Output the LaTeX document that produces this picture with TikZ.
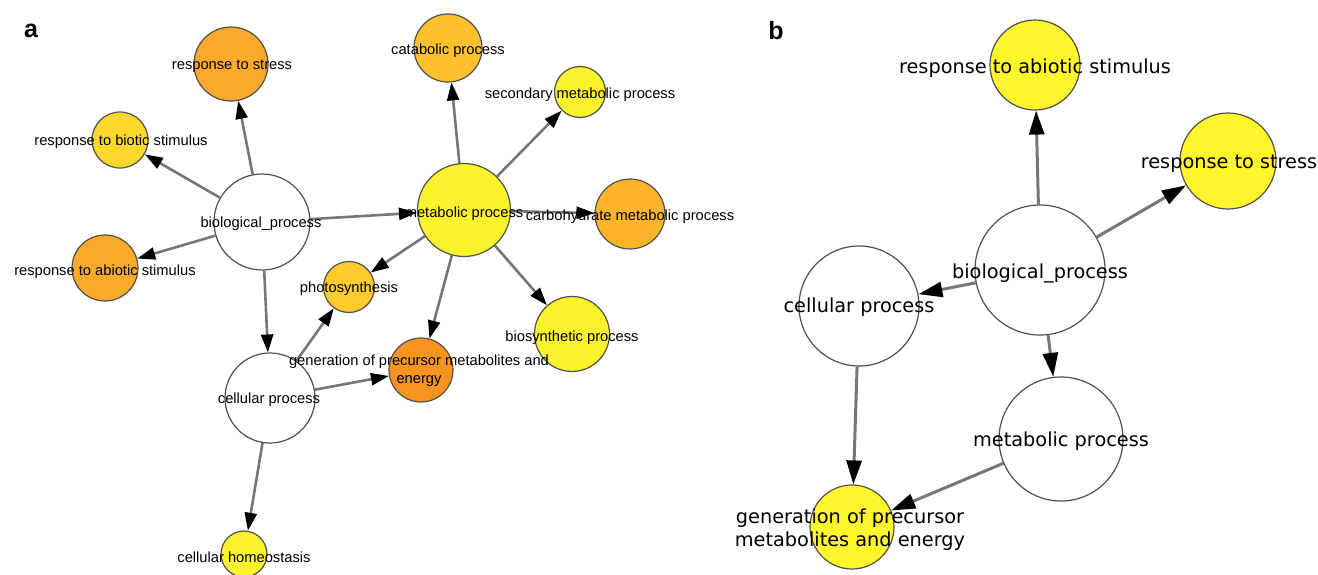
\documentclass[tikz,border=0pt]{standalone}
\usepackage{fontspec}
\setmainfont{Liberation Sans}
\newfontfamily\dejavu{DejaVu Sans}
\usetikzlibrary{arrows.meta}
\definecolor{cOrange}{RGB}{250,170,40}
\definecolor{cBiotic}{RGB}{253,216,44}
\definecolor{cCatab}{RGB}{251,192,44}
\definecolor{cYellow}{RGB}{250,242,42}
\definecolor{cCarbo}{RGB}{251,180,42}
\definecolor{cPhoto}{RGB}{253,204,44}
\definecolor{cGen}{RGB}{247,148,32}
\definecolor{cYellowB}{RGB}{255,245,45}
\definecolor{cEdge}{RGB}{118,118,118}
\definecolor{cBorder}{RGB}{80,80,80}
\tikzset{
  circ/.style={circle, draw=cBorder, line width=1.2pt, inner sep=0pt, minimum size=#1},
  edgea/.style={draw=cEdge, line width=2.6pt, -{Triangle[length=18pt,width=12pt,fill=black,color=black]}},
  edgeb/.style={draw=cEdge, line width=3pt, -{Triangle[length=24pt,width=15pt,fill=black,color=black]}},
  lbla/.style={inner sep=0pt, align=center, yshift=-2pt, font=\fontsize{14.7}{18}\selectfont},
  lblb/.style={inner sep=0pt, align=center, yshift=-2pt, font=\dejavu\fontsize{19.3}{23}\selectfont},
  panel/.style={inner sep=0pt, font=\bfseries\fontsize{25}{30}\selectfont},
}
\begin{document}
\begin{tikzpicture}[x=1pt,y=-1pt]
\useasboundingbox (0,0) rectangle (1318,574);
% ---------- panel a ----------
\node[panel] (pa) at (31,31) {a};
\node[circ=74pt, fill=cOrange] (stress) at (231,64) {};
\node[circ=56pt, fill=cBiotic] (biotic) at (120,140) {};
\node[circ=96pt, fill=white] (bio) at (262,222) {};
\node[circ=66pt, fill=cOrange] (abiotic) at (105,268) {};
\node[circ=68pt, fill=cCatab] (catab) at (448,48) {};
\node[circ=51pt, fill=cYellow] (second) at (580,92) {};
\node[circ=93pt, fill=cYellow] (metab) at (464,210) {};
\node[circ=70pt, fill=cCarbo] (carbo) at (630,214) {};
\node[circ=51pt, fill=cPhoto] (photo) at (349,287) {};
\node[circ=90pt, fill=white] (cell) at (270,398) {};
\node[circ=64pt, fill=cGen] (gen) at (421,370) {};
\node[circ=75pt, fill=cYellow] (biosyn) at (572,334) {};
\node[circ=46pt, fill=cYellow] (homeo) at (244,554) {};
\draw[edgea] (bio) -- (stress);
\draw[edgea] (bio) -- (biotic);
\draw[edgea] (bio) -- (abiotic);
\draw[edgea] (bio) -- (metab);
\draw[edgea] (bio) -- (cell);
\draw[edgea] (metab) -- (catab);
\draw[edgea] (metab) -- (second);
\draw[edgea] (metab) -- (carbo);
\draw[edgea] (metab) -- (photo);
\draw[edgea] (metab) -- (gen);
\draw[edgea] (metab) -- (biosyn);
\draw[edgea] (cell) -- (photo);
\draw[edgea] (cell) -- (gen);
\draw[edgea] (cell) -- (homeo);
\node[lbla] (tstress) at (232,64) {response to stress};
\node[lbla] (tbiotic) at (121,140) {response to biotic stimulus};
\node[lbla] (tbio) at (261,222) {biological\_process};
\node[lbla] (tabiotic) at (105,270) {response to abiotic stimulus};
\node[lbla] (tcatab) at (448,49) {catabolic process};
\node[lbla] (tsecond) at (580,93) {secondary metabolic process};
\node[lbla] (tmetab) at (464,212) {metabolic process};
\node[lbla] (tcarbo) at (630,215) {carbohydrate metabolic process};
\node[lbla] (tphoto) at (349,287) {photosynthesis};
\node[lbla] (tcell) at (269,398) {cellular process};
\node[lbla] (tgen) at (419,369) {generation of precursor metabolites and\\energy};
\node[lbla] (tbiosyn) at (572,336) {biosynthetic process};
\node[lbla] (thomeo) at (244,555) {cellular homeostasis};
% ---------- panel b ----------
\node[panel] (pb) at (776,31) {b};
\node[circ=90pt, fill=cYellowB] (babiotic) at (1035,65) {};
\node[circ=96pt, fill=cYellowB] (bstress) at (1228,161) {};
\node[circ=130pt, fill=white] (bbio) at (1040,270) {};
\node[circ=120pt, fill=white] (bcell) at (859,306) {};
\node[circ=124pt, fill=white] (bmetab) at (1061,439) {};
\node[circ=84pt, fill=cYellowB] (bgen) at (852,527) {};
\draw[edgeb] (bbio) -- (babiotic);
\draw[edgeb] (bbio) -- (bstress);
\draw[edgeb] (bbio) -- (bcell);
\draw[edgeb] (bbio) -- (bmetab);
\draw[edgeb] (bcell) -- (bgen);
\draw[edgeb] (bmetab) -- (bgen);
\node[lblb] (tbabiotic) at (1035,66) {response to abiotic stimulus};
\node[lblb] (tbstress) at (1229,162) {response to stress};
\node[lblb] (tbbio) at (1040,271) {biological\_process};
\node[lblb] (tbcell) at (859,305) {cellular process};
\node[lblb] (tbmetab) at (1061,439) {metabolic process};
\node[lblb] (tbgen) at (850,528) {generation of precursor\\metabolites and energy};
\end{tikzpicture}
\end{document}
